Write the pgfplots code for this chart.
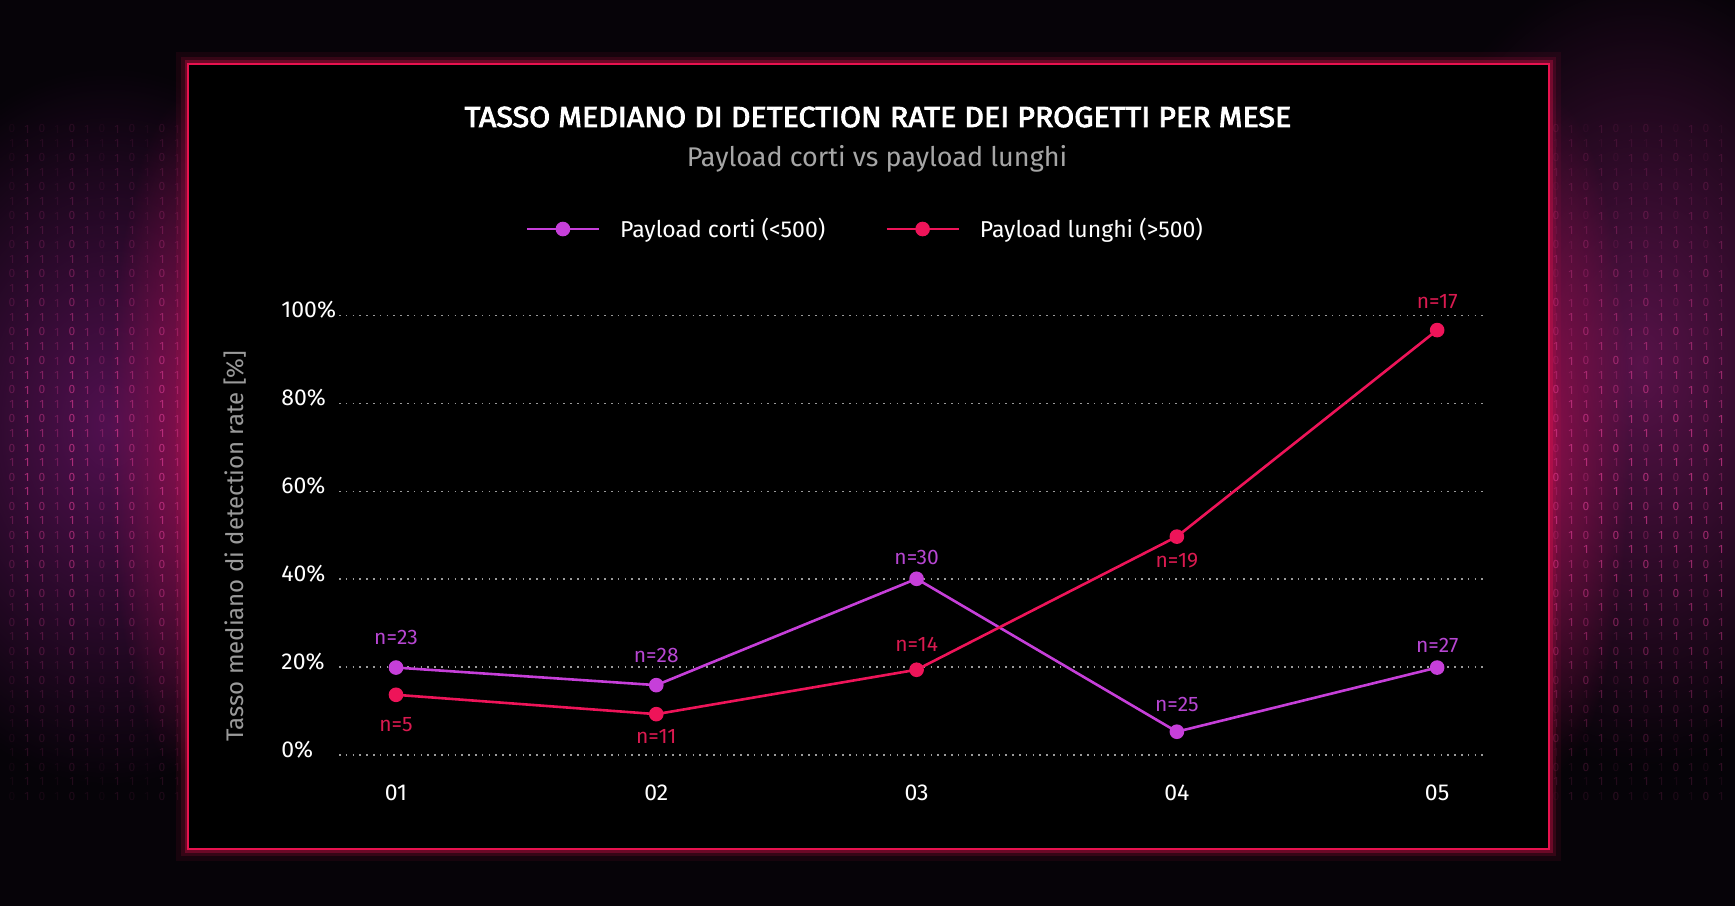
\documentclass[border=0pt]{standalone}
\usepackage{pgfplots}
\pgfplotsset{compat=1.18}
\usepackage{fontspec}
\setmainfont{Fira Sans}
\usetikzlibrary{fadings}
\tikzfading[name=myglow, inner color=transparent!0, outer color=transparent!100]
\definecolor{bg}{HTML}{060308}
\definecolor{framec}{HTML}{E8124F}
\definecolor{cpurple}{HTML}{C63FD9}
\definecolor{cred}{HTML}{EE1459}
\definecolor{lpurple}{HTML}{B746D2}
\definecolor{lred}{HTML}{DA1A50}
\definecolor{subgray}{HTML}{A6A6A6}
\definecolor{labgray}{HTML}{9A9A9A}
\definecolor{gridc}{HTML}{9A9A9A}
\definecolor{digit}{HTML}{D83A90}
\definecolor{hazeL}{HTML}{5A1258}
\definecolor{hazeR}{HTML}{601450}
\definecolor{edgeglow}{HTML}{9A1050}

\pgfplotstableread{
x y n p
0 19.9 n=23 30
1 15.9 n=28 30
2 40.1 n=30 21
3 5.3  n=25 27
4 19.9 n=27 22
}\corti

\pgfplotstableread{
x y n p
0 13.7 n=5  -30
1 9.3  n=11 -22
2 19.4 n=14 25
3 49.7 n=19 -24
4 96.7 n=17 29
}\lunghi

\begin{document}
\begin{tikzpicture}[x=0.5pt,y=0.5pt]
\useasboundingbox (0,0) rectangle (1735,906);
\fill[bg] (0,0) rectangle (1735,906);
\begin{scope}
\clip (0,0) rectangle (1735,906);
\fill[hazeL, path fading=myglow, opacity=0.9] (110,480) ellipse (260 and 360);
\fill[hazeR, path fading=myglow, opacity=0.9] (1640,540) ellipse (260 and 400);
\fill[edgeglow, path fading=myglow, opacity=0.8] (188,470) ellipse (80 and 340);
\fill[edgeglow, path fading=myglow, opacity=0.8] (1549,470) ellipse (80 and 340);
% binary rain (decoration)
\foreach \i in {0,...,11}{
  \foreach \j in {0,...,46}{
    \pgfmathtruncatemacro\d{mod(\i*7+\j*13+\i*\j*3,2)}
    \pgfmathsetmacro\yy{110+\j*14.5}
    \pgfmathsetmacro\op{(0.08+0.62*exp(-((\yy-450)/210)^2))*(0.45+0.275*mod(\i*5+\j*3,3))}
    \node[font=\fontsize{6}{6}\selectfont, text=digit, opacity=\op, inner sep=0] at (12+\i*15,\yy) {\d};
    \pgfmathsetmacro\opr{(0.08+0.62*exp(-((\yy-430)/230)^2))*(0.45+0.275*mod(\i*2+\j*5,3))}
    \node[font=\fontsize{6}{6}\selectfont, text=digit, opacity=\opr, inner sep=0] at (1556+\i*15,\yy) {\d};
  }
}
\end{scope}
% frame
\draw[framec, opacity=0.08, line width=12pt] (188,57) rectangle (1549,842);
\draw[framec, opacity=0.15, line width=7pt] (188,57) rectangle (1549,842);
\draw[framec, opacity=0.30, line width=3.5pt] (188,57) rectangle (1549,842);
\fill[black] (188,57) rectangle (1549,842);
\draw[framec, line width=1.4pt] (188,57) rectangle (1549,842);

% titles
\node[anchor=base, text=white, font=\fontsize{14.5}{16}\selectfont\addfontfeature{FakeStretch=1.05,FakeBold=3}] at (878,779) {TASSO MEDIANO DI DETECTION RATE DEI PROGETTI PER MESE};
\node[anchor=base, text=subgray, font=\fontsize{13.5}{15}\selectfont] at (877,739) {Payload corti vs payload lunghi};
\node[rotate=90, text=labgray, font=\fontsize{12}{14}\selectfont] at (235,360) {Tasso mediano di detection rate [\%]};

\begin{axis}[
  at={(169.5pt,75.5pt)}, anchor=south west,
  width=572.5pt, height=219.7pt, scale only axis,
  xmin=-0.219, xmax=4.18, ymin=0, ymax=100,
  clip=false,
  axis line style={draw=none},
  tick style={draw=none},
  xtick={0,1,2,3,4}, xticklabels={01,02,03,04,05},
  ytick={0,20,40,60,80,100},
  yticklabels={0\%,20\%,40\%,60\%,80\%,100\%},
  ymajorgrids,
  major grid style={gridc, line width=0.8pt, dash pattern=on 0.8pt off 2.6pt},
  /pgf/number format/assume math mode=true,
  yticklabel style={anchor=base west, inner sep=0pt, xshift=-29pt, yshift=-1.2pt, text=white, font=\fontsize{11.5}{12}\selectfont},
  xticklabel style={anchor=base, inner sep=0pt, yshift=-22.5pt, text=white, font=\fontsize{11.5}{12}\selectfont},
  legend style={at={(0.4605,1.197)}, anchor=center, draw=none, fill=none, text=white,
     font=\fontsize{11.5}{13}\selectfont, legend columns=2,
     /tikz/every odd column/.append style={column sep=8pt},
     /tikz/every even column/.append style={column sep=28pt}},
  legend image code/.code={\draw[mark repeat=2,mark phase=2,#1] plot coordinates {(0pt,0pt)(18pt,0pt)(36pt,0pt)};},
  nodes near coords,
  point meta=explicit symbolic,
]
\addplot[cpurple, line width=1.3pt, mark=*, mark size=3pt, mark options={solid},
  visualization depends on={\thisrow{p} \as \lp},
  every node near coord/.append style={anchor=center, yshift=\lp*0.5pt, text=lpurple, font=\fontsize{10.5}{12}\selectfont}]
  table[x=x, y=y, meta=n] {\corti};
\addlegendentry{Payload corti (<500)}
\addplot[cred, line width=1.3pt, mark=*, mark size=3pt, mark options={solid},
  visualization depends on={\thisrow{p} \as \lp},
  every node near coord/.append style={anchor=center, yshift=\lp*0.5pt, text=lred, font=\fontsize{10.5}{12}\selectfont}]
  table[x=x, y=y, meta=n] {\lunghi};
\addlegendentry{Payload lunghi (>500)}
\end{axis}
\end{tikzpicture}
\end{document}
